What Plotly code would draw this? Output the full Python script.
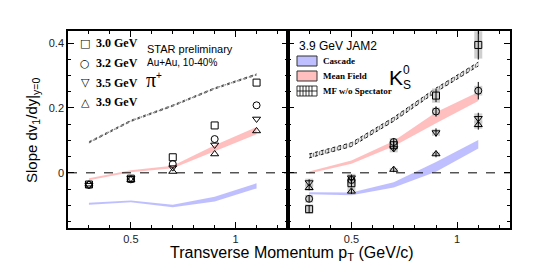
import plotly.graph_objects as go

# transverse momentum bins (GeV/c)
pt = [0.3, 0.5, 0.7, 0.9, 1.1]
energies = ["3.0 GeV", "3.2 GeV", "3.5 GeV", "3.9 GeV"]
symbols = ["square-open", "circle-open", "triangle-down-open", "triangle-up-open"]
glyphs = ["□", "○", "▽", "△"]

# pi+ slopes dv1/dy
pi_30 = [-0.036, -0.018, 0.048, 0.146, 0.278]
pi_32 = [-0.037, -0.020, 0.027, 0.104, 0.208]
pi_35 = [-0.038, -0.017, 0.016, 0.086, 0.166]
pi_39 = [-0.035, -0.021, 0.004, 0.058, 0.129]

# K0s slopes, stat and sys errors
k_30 = [-0.112, -0.032, 0.085, 0.238, 0.394]
k_32 = [-0.080, -0.022, 0.095, 0.189, 0.253]
k_35 = [-0.030, -0.015, 0.075, 0.124, 0.168]
k_39 = [-0.046, -0.057, 0.010, 0.058, 0.148]
k_30_stat = [0.012, 0.012, 0.012, 0.020, 0.045]
k_32_stat = [0.010, 0.010, 0.012, 0.016, 0.027]
k_35_stat = [0.010, 0.010, 0.010, 0.013, 0.017]
k_39_stat = [0.008, 0.008, 0.008, 0.010, 0.015]
k_30_sys = [0.015, 0.015, 0.012, 0.022, 0.042]
k_32_sys = [0.012, 0.012, 0.012, 0.012, 0.015]
k_35_sys = [0.012, 0.012, 0.012, 0.010, 0.015]
k_39_sys = [0.010, 0.010, 0.005, 0.005, 0.012]

# JAM2 model bands (centre, half width)
pi_casc = [-0.095, -0.088, -0.102, -0.081, -0.040]
pi_casc_hw = [0.003, 0.003, 0.004, 0.007, 0.008]
pi_mf = [-0.020, 0.005, 0.018, 0.076, 0.130]
pi_mf_hw = [0.003, 0.003, 0.004, 0.009, 0.011]
pi_mfns = [0.094, 0.160, 0.207, 0.260, 0.303]
pi_mfns_hw = [0.002, 0.002, 0.002, 0.002, 0.002]
k_casc = [-0.063, -0.065, -0.037, 0.018, 0.088]
k_casc_hw = [0.003, 0.004, 0.008, 0.015, 0.013]
k_mf = [0.001, 0.033, 0.090, 0.170, 0.235]
k_mf_hw = [0.003, 0.005, 0.008, 0.017, 0.014]
k_mfns = [0.052, 0.087, 0.165, 0.255, 0.335]
k_mfns_hw = [0.006, 0.006, 0.006, 0.006, 0.006]

BLUE = "rgba(170,170,255,0.75)"
PINK = "rgba(255,170,170,0.75)"
SANS = "Liberation Sans"
SERIF = "Liberation Serif"

fig = go.Figure()


def band(c, hw, color, xa, ya, hatch=0):
    lo = [a - b for a, b in zip(c, hw)]
    hi = [a + b for a, b in zip(c, hw)]
    line = dict(width=hatch, color="black", dash="dot") if hatch else dict(width=0)
    fig.add_trace(go.Scatter(x=pt, y=lo, mode="lines", line=line, xaxis=xa, yaxis=ya,
                             showlegend=False, hoverinfo="skip"))
    kw = dict(fill="tonexty", fillcolor=color)
    if hatch:
        kw["fillpattern"] = dict(shape="|", size=3, solidity=0.5, fgcolor="black", bgcolor="white")
    fig.add_trace(go.Scatter(x=pt, y=hi, mode="lines", line=line, xaxis=xa, yaxis=ya,
                             showlegend=False, hoverinfo="skip", **kw))


band(pi_casc, pi_casc_hw, BLUE, "x", "y")
band(pi_mf, pi_mf_hw, PINK, "x", "y")
band(pi_mfns, pi_mfns_hw, "white", "x", "y", hatch=0.6)
band(k_casc, k_casc_hw, BLUE, "x2", "y2")
band(k_mf, k_mf_hw, PINK, "x2", "y2")
band(k_mfns, k_mfns_hw, "white", "x2", "y2", hatch=0.9)

pi_sets = [pi_30, pi_32, pi_35, pi_39]
k_sets = [k_30, k_32, k_35, k_39]
k_stats = [k_30_stat, k_32_stat, k_35_stat, k_39_stat]
k_syss = [k_30_sys, k_32_sys, k_35_sys, k_39_sys]

# systematic boxes for K0s
for ys, sy in zip(k_sets, k_syss):
    fig.add_trace(go.Scatter(x=pt, y=ys, mode="markers", marker=dict(size=1, opacity=0),
                             error_y=dict(type="data", array=sy, thickness=8, width=0,
                                          color="rgba(195,195,195,0.8)"),
                             xaxis="x2", yaxis="y2", showlegend=False, hoverinfo="skip"))

for name, sym, ys in zip(energies, symbols, pi_sets):
    fig.add_trace(go.Scatter(x=pt, y=ys, mode="markers", name=name, showlegend=False,
                             marker=dict(symbol=sym, size=7, color="black", line=dict(width=1, color="black")),
                             xaxis="x", yaxis="y"))

for sym, ys, st in zip(symbols, k_sets, k_stats):
    fig.add_trace(go.Scatter(x=pt, y=ys, mode="markers", showlegend=False,
                             marker=dict(symbol=sym, size=7, color="black", line=dict(width=1, color="black")),
                             error_y=dict(type="data", array=st, thickness=1, width=0, color="black"),
                             xaxis="x2", yaxis="y2"))

xax = dict(range=[0.2, 1.25], showline=True, linecolor="black", linewidth=1.5, mirror="ticks",
           ticks="inside", ticklen=6, tickcolor="black", tickvals=[0.5, 1], ticktext=["0.5", "1"],
           minor=dict(ticks="inside", ticklen=3, tickmode="linear", tick0=0, dtick=0.1, tickcolor="black"),
           showgrid=False, zeroline=False, tickfont=dict(family=SANS, size=11, color="#222"))
yax = dict(range=[-0.17, 0.437], showline=True, linecolor="black", linewidth=1.5, mirror="ticks",
           ticks="inside", ticklen=6, tickcolor="black", tickvals=[0, 0.2, 0.4], ticktext=["0", "0.2", "0.4"],
           minor=dict(ticks="inside", ticklen=3, tickmode="linear", tick0=0, dtick=0.05, tickcolor="black"),
           showgrid=False, zeroline=False, tickfont=dict(family=SANS, size=11, color="#222"))

# the page body adds an 8px offset, so margins are trimmed by 8px at top/left
split = 220 / 442
fig.update_layout(
    width=540, height=279, margin=dict(l=60, r=38, t=23, b=59),
    plot_bgcolor="white", paper_bgcolor="white", showlegend=False,
    xaxis=dict(xax, domain=[0, split], anchor="y"),
    xaxis2=dict(xax, domain=[split, 1], anchor="y2"),
    yaxis=dict(yax, anchor="x"),
    yaxis2=dict(yax, anchor="x2", matches="y", showticklabels=False),
)

# dashed zero lines
for xr, yr in [("x domain", "y"), ("x2 domain", "y2")]:
    fig.add_shape(type="line", xref=xr, yref=yr, x0=0, x1=1, y0=0, y1=0,
                  line=dict(color="black", width=1, dash="dash"))


def px(x):
    return (x - 68) / 442


def py(y):
    return (228 - y) / 197


def note(x, y, text, size, family=SANS, xanchor="left", **kw):
    fig.add_annotation(x=px(x), y=py(y), xref="paper", yref="paper", text=text, showarrow=False,
                       xanchor=xanchor, yanchor="middle", font=dict(family=family, size=size, color="black"), **kw)


# energy legend
for i, (g, name) in enumerate(zip(glyphs, energies)):
    yy = 43.3 + 19.7 * i
    note(85, yy, g, 11, family="DejaVu Sans", xanchor="center")
    note(94, yy, "<b>" + name + "</b>", 12, family=SERIF)

note(145, 49, "STAR preliminary", 11)
note(145, 62, "Au+Au, 10-40%", 10)
note(144, 80, "π", 20, family=SERIF)
note(154, 75, "+", 10)
note(297, 46, "3.9 GeV JAM2", 12)
note(387, 77, "K", 21)
note(401, 70, "0", 12)
note(401, 85, "S", 12)

# model legend
for i, (label, color) in enumerate([("Cascade", BLUE), ("Mean Field", PINK), ("MF w/o Spectator", "white")]):
    y0 = 56 + 15 * i
    fig.add_shape(type="rect", xref="paper", yref="paper", x0=px(297), x1=px(317), y0=py(y0), y1=py(y0 + 10),
                  fillcolor=color, line=dict(color="#333", width=1))
    note(321, y0 + 5, "<b>" + label + "</b>", 9, family=SERIF)
hatch = "".join("M {:.4f} {:.4f} V {:.4f} ".format(px(297 + k), py(86), py(96)) for k in range(3, 18, 3))
hatch += "M {:.4f} {:.4f} H {:.4f}".format(px(297), py(91), px(317))
fig.add_shape(type="path", xref="paper", yref="paper", path=hatch, line=dict(color="black", width=0.8))

# axis titles
note(32, 130, "Slope dv<sub>1</sub>/dy|<sub>y=0</sub>", 15, xanchor="center", textangle=-90)
note(292, 253, "Transverse Momentum p<sub>T</sub> (GeV/c)", 16, xanchor="center")

fig.write_html("out.html")
